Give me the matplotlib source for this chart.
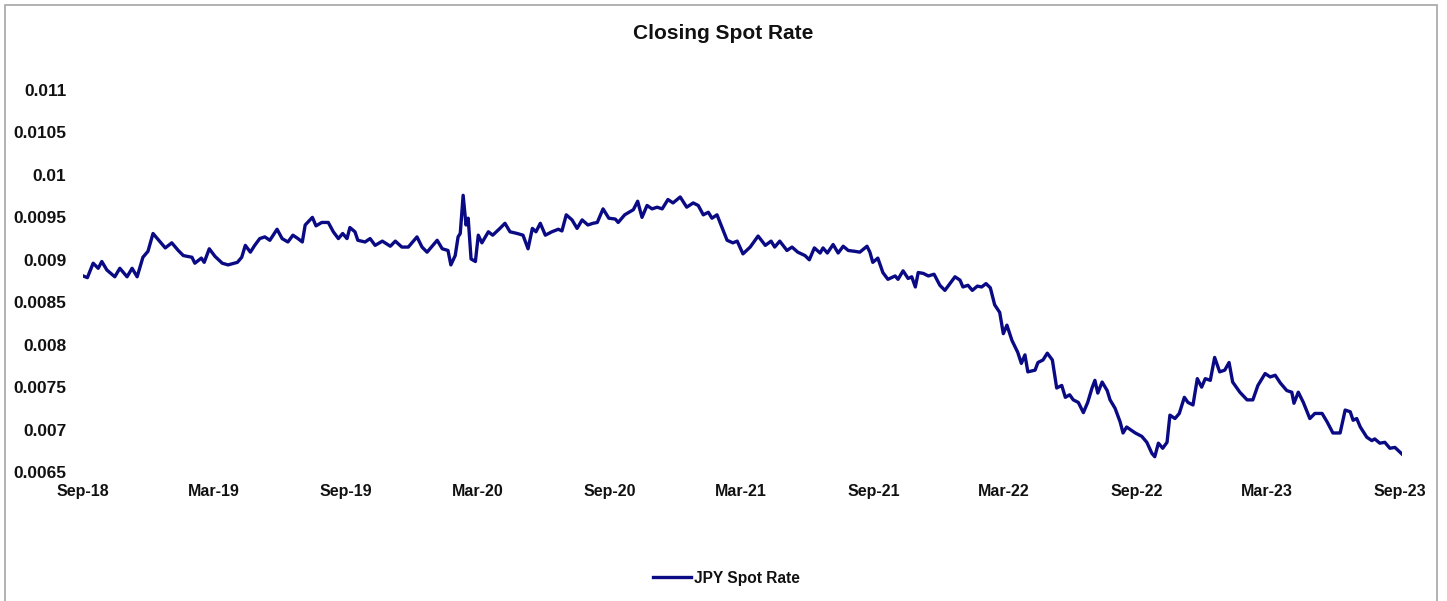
import matplotlib
matplotlib.use("Agg")
import matplotlib.pyplot as plt
import matplotlib.dates as mdates
from matplotlib.patches import Rectangle
import numpy as np
import pandas as pd

plt.rcParams['font.family'] = ['Liberation Sans', 'DejaVu Sans']

# data (roughly weekly)
dates = [
    "2018-09-01", "2018-09-07", "2018-09-15", "2018-09-22", "2018-09-27", "2018-10-04",
    "2018-10-15", "2018-10-22", "2018-11-01", "2018-11-08", "2018-11-15", "2018-11-23",
    "2018-11-30", "2018-12-07", "2018-12-14", "2018-12-24", "2019-01-02", "2019-01-11",
    "2019-01-18", "2019-01-30", "2019-02-03", "2019-02-12", "2019-02-16", "2019-02-23",
    "2019-03-03", "2019-03-13", "2019-03-21", "2019-04-03", "2019-04-09", "2019-04-14",
    "2019-04-21", "2019-04-27", "2019-05-04", "2019-05-11", "2019-05-18", "2019-05-28",
    "2019-06-04", "2019-06-12", "2019-06-19", "2019-06-26", "2019-07-02", "2019-07-06",
    "2019-07-16", "2019-07-21", "2019-07-29", "2019-08-07", "2019-08-14", "2019-08-21",
    "2019-08-27", "2019-09-02", "2019-09-06", "2019-09-13", "2019-09-17", "2019-09-27",
    "2019-10-04", "2019-10-11", "2019-10-21", "2019-11-01", "2019-11-08", "2019-11-17",
    "2019-11-26", "2019-12-08", "2019-12-15", "2019-12-22", "2020-01-05", "2020-01-12",
    "2020-01-20", "2020-01-24", "2020-01-30", "2020-02-03", "2020-02-06", "2020-02-10",
    "2020-02-14", "2020-02-17", "2020-02-21", "2020-02-27", "2020-03-02", "2020-03-07",
    "2020-03-16", "2020-03-22", "2020-04-01", "2020-04-08", "2020-04-15", "2020-04-25",
    "2020-05-03", "2020-05-10", "2020-05-16", "2020-05-21", "2020-05-27", "2020-06-03",
    "2020-06-12", "2020-06-21", "2020-06-26", "2020-07-02", "2020-07-10", "2020-07-17",
    "2020-07-24", "2020-08-01", "2020-08-08", "2020-08-14", "2020-08-22", "2020-08-30",
    "2020-09-08", "2020-09-12", "2020-09-21", "2020-09-27", "2020-10-03", "2020-10-09",
    "2020-10-15", "2020-10-22", "2020-10-29", "2020-11-05", "2020-11-12", "2020-11-20",
    "2020-11-27", "2020-12-07", "2020-12-16", "2020-12-25", "2021-01-01", "2021-01-08",
    "2021-01-15", "2021-01-20", "2021-01-27", "2021-02-03", "2021-02-10", "2021-02-18",
    "2021-02-24", "2021-03-04", "2021-03-14", "2021-03-25", "2021-04-04", "2021-04-12",
    "2021-04-17", "2021-04-24", "2021-05-04", "2021-05-11", "2021-05-19", "2021-05-29",
    "2021-06-04", "2021-06-11", "2021-06-19", "2021-06-23", "2021-06-29", "2021-07-07",
    "2021-07-14", "2021-07-21", "2021-07-28", "2021-08-06", "2021-08-13", "2021-08-23",
    "2021-08-27", "2021-08-31", "2021-09-07", "2021-09-14", "2021-09-21", "2021-10-01",
    "2021-10-05", "2021-10-12", "2021-10-19", "2021-10-24", "2021-10-29", "2021-11-02",
    "2021-11-09", "2021-11-16", "2021-11-24", "2021-12-02", "2021-12-09", "2021-12-16",
    "2021-12-23", "2021-12-30", "2022-01-03", "2022-01-10", "2022-01-16", "2022-01-23",
    "2022-01-29", "2022-02-04", "2022-02-10", "2022-02-16", "2022-02-23", "2022-02-28",
    "2022-03-05", "2022-03-12", "2022-03-20", "2022-03-25", "2022-03-30", "2022-04-03",
    "2022-04-13", "2022-04-17", "2022-04-24", "2022-04-30", "2022-05-07", "2022-05-13",
    "2022-05-20", "2022-05-25", "2022-05-31", "2022-06-05", "2022-06-12", "2022-06-19",
    "2022-06-25", "2022-07-01", "2022-07-05", "2022-07-09", "2022-07-15", "2022-07-22",
    "2022-07-26", "2022-08-02", "2022-08-09", "2022-08-13", "2022-08-18", "2022-08-25",
    "2022-08-30", "2022-09-08", "2022-09-15", "2022-09-22", "2022-09-26", "2022-10-01",
    "2022-10-07", "2022-10-13", "2022-10-17", "2022-10-24", "2022-10-30", "2022-11-06",
    "2022-11-11", "2022-11-18", "2022-11-24", "2022-11-30", "2022-12-05", "2022-12-12",
    "2022-12-18", "2022-12-25", "2023-01-01", "2023-01-07", "2023-01-12", "2023-01-22",
    "2023-02-01", "2023-02-09", "2023-02-16", "2023-02-26", "2023-03-05", "2023-03-12",
    "2023-03-19", "2023-03-28", "2023-04-04", "2023-04-07", "2023-04-13", "2023-04-20",
    "2023-04-29", "2023-05-06", "2023-05-16", "2023-05-23", "2023-05-31", "2023-06-10",
    "2023-06-17", "2023-06-24", "2023-06-28", "2023-07-03", "2023-07-08", "2023-07-17",
    "2023-07-24", "2023-07-28", "2023-08-04", "2023-08-11", "2023-08-18", "2023-08-25",
    "2023-09-04",
]

jpy_rate = [
    0.00881, 0.00879, 0.00896, 0.00890, 0.00898, 0.00888,
    0.00880, 0.00890, 0.00880, 0.00890, 0.00880, 0.00903,
    0.00910, 0.00931, 0.00924, 0.00914, 0.00920, 0.00911,
    0.00905, 0.00903, 0.00896, 0.00902, 0.00897, 0.00913,
    0.00904, 0.00896, 0.00894, 0.00897, 0.00903, 0.00917,
    0.00909, 0.00917, 0.00925, 0.00927, 0.00923, 0.00936,
    0.00925, 0.00921, 0.00929, 0.00925, 0.00921, 0.00941,
    0.00950, 0.00940, 0.00944, 0.00944, 0.00933, 0.00925,
    0.00931, 0.00925, 0.00938, 0.00933, 0.00923, 0.00921,
    0.00925, 0.00917, 0.00922, 0.00916, 0.00922, 0.00915,
    0.00915, 0.00927, 0.00915, 0.00909, 0.00923, 0.00913,
    0.00911, 0.00894, 0.00905, 0.00927, 0.00931, 0.00976,
    0.00941, 0.00949, 0.00901, 0.00898, 0.00929, 0.00920,
    0.00933, 0.00929, 0.00937, 0.00943, 0.00933, 0.00931,
    0.00929, 0.00913, 0.00937, 0.00933, 0.00943, 0.00929,
    0.00933, 0.00936, 0.00934, 0.00953, 0.00947, 0.00937,
    0.00947, 0.00941, 0.00943, 0.00944, 0.00960, 0.00949,
    0.00948, 0.00944, 0.00953, 0.00956, 0.00959, 0.00969,
    0.00950, 0.00964, 0.00960, 0.00962, 0.00960, 0.00971,
    0.00967, 0.00974, 0.00962, 0.00967, 0.00964, 0.00953,
    0.00956, 0.00949, 0.00953, 0.00938, 0.00923, 0.00920,
    0.00922, 0.00907, 0.00915, 0.00928, 0.00917, 0.00922,
    0.00915, 0.00922, 0.00911, 0.00915, 0.00909, 0.00905,
    0.00900, 0.00914, 0.00908, 0.00914, 0.00908, 0.00918,
    0.00908, 0.00916, 0.00911, 0.00910, 0.00909, 0.00916,
    0.00909, 0.00897, 0.00902, 0.00885, 0.00877, 0.00881,
    0.00877, 0.00887, 0.00878, 0.00880, 0.00868, 0.00885,
    0.00884, 0.00881, 0.00883, 0.00870, 0.00864, 0.00872,
    0.00880, 0.00876, 0.00868, 0.00870, 0.00864, 0.00869,
    0.00868, 0.00872, 0.00867, 0.00847, 0.00838, 0.00813,
    0.00823, 0.00805, 0.00791, 0.00778, 0.00788, 0.00768,
    0.00770, 0.00779, 0.00782, 0.00790, 0.00782, 0.00749,
    0.00752, 0.00738, 0.00741, 0.00735, 0.00732, 0.00720,
    0.00732, 0.00749, 0.00758, 0.00743, 0.00756, 0.00746,
    0.00735, 0.00725, 0.00709, 0.00696, 0.00703, 0.00699,
    0.00696, 0.00692, 0.00685, 0.00672, 0.00668, 0.00684,
    0.00678, 0.00685, 0.00717, 0.00713, 0.00719, 0.00738,
    0.00732, 0.00729, 0.00760, 0.00750, 0.00760, 0.00758,
    0.00785, 0.00768, 0.00770, 0.00779, 0.00756, 0.00744,
    0.00735, 0.00735, 0.00752, 0.00766, 0.00762, 0.00764,
    0.00755, 0.00746, 0.00744, 0.00731, 0.00744, 0.00732,
    0.00713, 0.00719, 0.00719, 0.00709, 0.00696, 0.00696,
    0.00723, 0.00721, 0.00711, 0.00713, 0.00703, 0.00691,
    0.00687, 0.00689, 0.00684, 0.00685, 0.00678, 0.00679,
    0.00671,
]

y_ticks = [0.0065, 0.007, 0.0075, 0.008, 0.0085, 0.009, 0.0095, 0.01, 0.0105, 0.011]
y_tick_labels = ["0.0065", "0.007", "0.0075", "0.008", "0.0085", "0.009",
                 "0.0095", "0.01", "0.0105", "0.011"]

x = pd.to_datetime(dates)
y = np.asarray(jpy_rate)

fig = plt.figure(figsize=(14.47, 6.01), dpi=100)
ax = fig.add_axes([0.0574, 0.2146, 0.9116, 0.6356])

line_color = '#0a0a84'
ax.plot(x, y, color=line_color, lw=2.4, label='JPY Spot Rate')

ax.set_ylim(0.0065, 0.011)
ax.set_xlim(x[0], x[-1])
ax.set_yticks(y_ticks)
ax.set_yticklabels(y_tick_labels)
ax.xaxis.set_major_locator(mdates.MonthLocator(bymonth=[3, 9]))
ax.xaxis.set_major_formatter(mdates.DateFormatter('%b-%y'))

for s in ax.spines.values():
    s.set_visible(False)
ax.tick_params(axis='both', length=0)
ax.tick_params(axis='y', pad=12, labelsize=12.4)
ax.tick_params(axis='x', pad=8.5, labelsize=11.5)
for lab in ax.get_xticklabels() + ax.get_yticklabels():
    lab.set_fontweight('bold')
    lab.set_color('#111111')

fig.text(0.5, 0.944, 'Closing Spot Rate', ha='center', va='center',
         fontsize=15, fontweight='bold', color='#111111')

leg = fig.legend(loc='center', bbox_to_anchor=(0.502, 0.038), frameon=False,
                 prop={'weight': 'bold', 'size': 11.2}, handlelength=2.4,
                 handletextpad=0.2)
for t in leg.get_texts():
    t.set_color('#111111')

# thin grey chart border
fig.patches.append(Rectangle((5 / 1447, -0.01), 1432 / 1447, 1 - 5 / 601 + 0.01,
                             transform=fig.transFigure, fill=False,
                             edgecolor='#a6a6a6', lw=1.2))

fig.savefig('out.png', dpi=100)
